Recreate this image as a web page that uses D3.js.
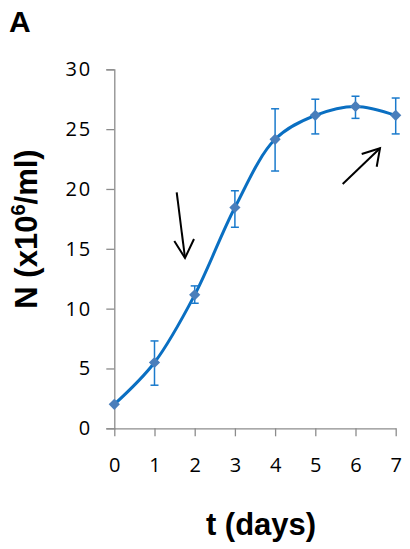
<!DOCTYPE html>
<html><head><meta charset="utf-8">
<script src="https://cdn.jsdelivr.net/npm/d3@7"></script>
<style>body{margin:0;background:#fff}svg{display:block}</style>
</head><body>
<script>
const days = [0, 1, 2, 3, 4, 5, 6, 7];
const meanN = [2.0, 5.5, 11.15, 18.45, 24.15, 26.15, 26.9, 26.15];
const errLow = [2.0, 3.6, 10.45, 16.8, 21.5, 24.6, 25.9, 24.6];
const errHigh = [2.0, 7.3, 11.9, 19.85, 26.7, 27.5, 27.75, 27.6];
const yTicks = [0, 5, 10, 15, 20, 25, 30];
const xTicks = [0, 1, 2, 3, 4, 5, 6, 7];

const W = 410, H = 549;
const svg = d3.select("body").append("svg").attr("width", W).attr("height", H);

const x = d3.scaleLinear().domain([0, 7]).range([114.3, 395.7]);
const y = d3.scaleLinear().domain([0, 30]).range([428.3, 69.3]);
const axisColor = "#8c8c8c";

// Y axis
const yAx = svg.append("g").attr("transform", `translate(${x(0)},0)`)
  .call(d3.axisLeft(y).tickValues(yTicks).tickFormat(d3.format("d")).tickSize(8).tickPadding(16));
yAx.select(".domain").attr("stroke", axisColor).attr("stroke-width", 1.3);
yAx.selectAll(".tick line").attr("stroke", axisColor).attr("stroke-width", 1.3);
yAx.selectAll(".tick text").attr("font-family", "Open Sans").attr("font-size", 20)
  .attr("fill", "#000").attr("letter-spacing", 2).attr("dx", 2);

// X axis
const xAx = svg.append("g").attr("transform", `translate(0,${y(0)})`)
  .call(d3.axisBottom(x).tickValues(xTicks).tickFormat(d3.format("d")).tickSize(8).tickSizeOuter(0).tickPadding(30));
xAx.select(".domain").attr("stroke", axisColor).attr("stroke-width", 1.3);
xAx.selectAll(".tick line").attr("stroke", axisColor).attr("stroke-width", 1.3);
xAx.selectAll(".tick text").attr("font-family", "Open Sans").attr("font-size", 20)
  .attr("fill", "#000").attr("dy", "0.3em");

// Line
const line = d3.line().x((d, i) => x(days[i])).y(d => y(d)).curve(d3.curveCatmullRom.alpha(0.5));
svg.append("path").datum(meanN).attr("d", line).attr("fill", "none")
  .attr("stroke", "#0a6fc2").attr("stroke-width", 3);

// Error bars
const eb = svg.append("g").attr("stroke", "#1a7acc").attr("stroke-width", 1.5);
days.forEach((d, i) => {
  if (errHigh[i] - errLow[i] < 0.01) return;
  eb.append("line").attr("x1", x(d)).attr("x2", x(d)).attr("y1", y(errLow[i])).attr("y2", y(errHigh[i]));
  eb.append("line").attr("x1", x(d) - 4).attr("x2", x(d) + 4).attr("y1", y(errLow[i])).attr("y2", y(errLow[i]));
  eb.append("line").attr("x1", x(d) - 4).attr("x2", x(d) + 4).attr("y1", y(errHigh[i])).attr("y2", y(errHigh[i]));
});

// Markers
const sym = d3.symbol().type(d3.symbolDiamond2).size(80);
svg.append("g").selectAll("path").data(meanN).join("path")
  .attr("transform", (d, i) => `translate(${x(days[i])},${y(d)})`)
  .attr("d", sym).attr("fill", "#4a7ebb");

// Arrows
function arrow(x1, y1, x2, y2, h1x, h1y, h2x, h2y) {
  const g = svg.append("g").attr("stroke", "#000").attr("stroke-width", 2).attr("fill", "none");
  g.append("line").attr("x1", x1).attr("y1", y1).attr("x2", x2).attr("y2", y2);
  g.append("polyline").attr("points", `${h1x},${h1y} ${x2},${y2} ${h2x},${h2y}`);
}
arrow(176.7, 192.3, 185, 258, 174.3, 241, 194, 239);
arrow(342.7, 184, 380, 148.3, 361.7, 154, 376.7, 166.7);

// Labels
svg.append("text").attr("x", 9).attr("y", 32).text("A")
  .attr("font-family", "Liberation Sans, Arial").attr("font-weight", "bold").attr("font-size", 30);

svg.append("text").attr("x", 261).attr("y", 535).attr("text-anchor", "middle")
  .attr("font-family", "Liberation Sans, Arial").attr("font-weight", "bold").attr("font-size", 31)
  .text("t (days)");

const yl = svg.append("text").attr("transform", "translate(37,229) rotate(-90)")
  .attr("text-anchor", "middle")
  .attr("font-family", "Liberation Sans, Arial").attr("font-weight", "bold").attr("font-size", 31);
yl.append("tspan").text("N (x10");
yl.append("tspan").text("6").attr("font-size", 20).attr("dy", -12);
yl.append("tspan").text("/ml)").attr("dy", 12);
</script>
</body></html>
